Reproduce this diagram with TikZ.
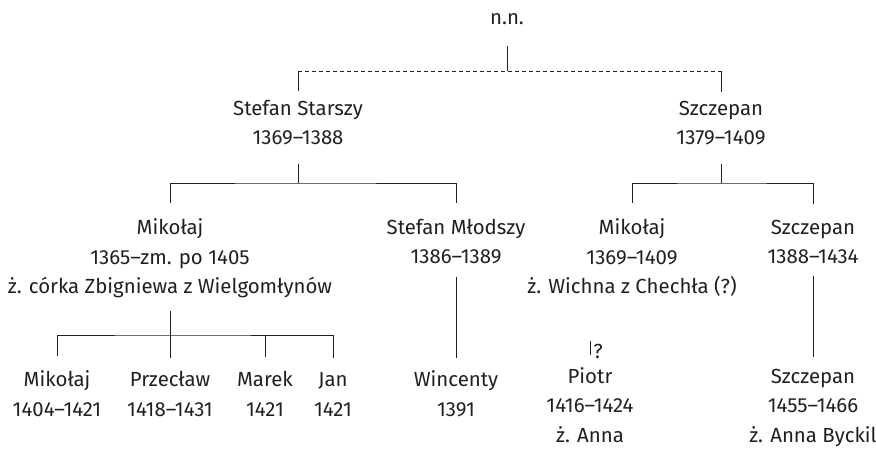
\documentclass[tikz,border=0pt]{standalone}
\usepackage{fontspec}
\setmainfont{Fira Sans}
\usetikzlibrary{positioning}
\definecolor{ink}{HTML}{231F20}

\tikzset{
  person/.style={align=center, anchor=base, inner sep=0pt, text=ink,
    font=\fontsize{20.4}{29.5}\selectfont},
  link/.style={draw=ink, line width=0.9pt},
  guess/.style={link, dash pattern=on 4pt off 3pt},
}

\begin{document}
\begin{tikzpicture}[x=1pt, y=-1pt]
    \useasboundingbox (0,0) rectangle (876,449);

    % people (placed at the baseline of their last line)
    \node[person] (nn) at (507,25) {n.n.};
    \node[person] (ss) at (298,145) {Stefan Starszy\\1369--1388};
    \node[person] (sz) at (721,145) {Szczepan\\1379--1409};

    \node[person] (mk) at (170,294) {Mikołaj\\1365--zm. po 1405\\ż. córka Zbigniewa z Wielgomłynów};
    \node[person] (sm) at (456,264) {Stefan Młodszy\\1386--1389};
    \node[person] (mk2) at (632,294) {Mikołaj\\1369--1409\\ż. Wichna z Chechła (?)};
    \node[person] (sz2) at (813,264) {Szczepan\\1388--1434};

    \node[person] (c1) at (57,416) {Mikołaj\\1404--1421};
    \node[person] (c2) at (170,416) {Przecław\\1418--1431};
    \node[person] (c3) at (265,416) {Marek\\1421};
    \node[person] (c4) at (333,416) {Jan\\1421};
    \node[person] (wi) at (456,416) {Wincenty\\1391};
    \node[person] (pi) at (590,442) {Piotr\\1416--1424\\ż. Anna};
    \node[person] (sz3) at (813,442) {Szczepan\\1455--1466\\ż. Anna Byckil};
    \node[person] (qm) at (598,358) {?};

    % junctions
    \coordinate (b1) at (507,71);
    \coordinate (b2) at (298,183);
    \coordinate (b3) at (721,183);
    \coordinate (b4) at (170,335);
    \coordinate (q) at (590,341);

    % n.n. and his sons
    \draw[link] ([yshift=-21pt]nn.base) -- (b1);
    \draw[guess] (ss.north |- b1) -- (sz.north |- b1);
    \draw[link] (ss.north |- b1) -- ([yshift=9pt]ss.north);
    \draw[link] (sz.north |- b1) -- ([yshift=9pt]sz.north);

    % Stefan Starszy
    \draw[link] ([yshift=-18pt]ss.south) -- (b2);
    \draw[link] ([yshift=16pt]mk.north) |- (b2) -| ([yshift=16pt]sm.north);

    % Szczepan
    \draw[link] ([yshift=-18pt]sz.south) -- (b3);
    \draw[link] ([yshift=16pt]mk2.north) |- (b3) -| ([yshift=16pt]sz2.north);

    % Mikołaj
    \draw[link] ([yshift=-12pt]mk.south) -- ([yshift=13pt]c2.north);
    \draw[link] ([yshift=14pt]c1.north) |- (b4) -| ([yshift=14pt]c4.north);
    \draw[link] (c3.north |- b4) -- ([yshift=14pt]c3.north);

    % single lines
    \draw[link] ([yshift=-12pt]sm.south) -- ([yshift=12pt]wi.north);
    \draw[link] ([yshift=-12pt]sz2.south) -- ([yshift=12pt]sz3.north);
    \draw[link] (q) -- ([yshift=12pt]pi.north);
\end{tikzpicture}
\end{document}
